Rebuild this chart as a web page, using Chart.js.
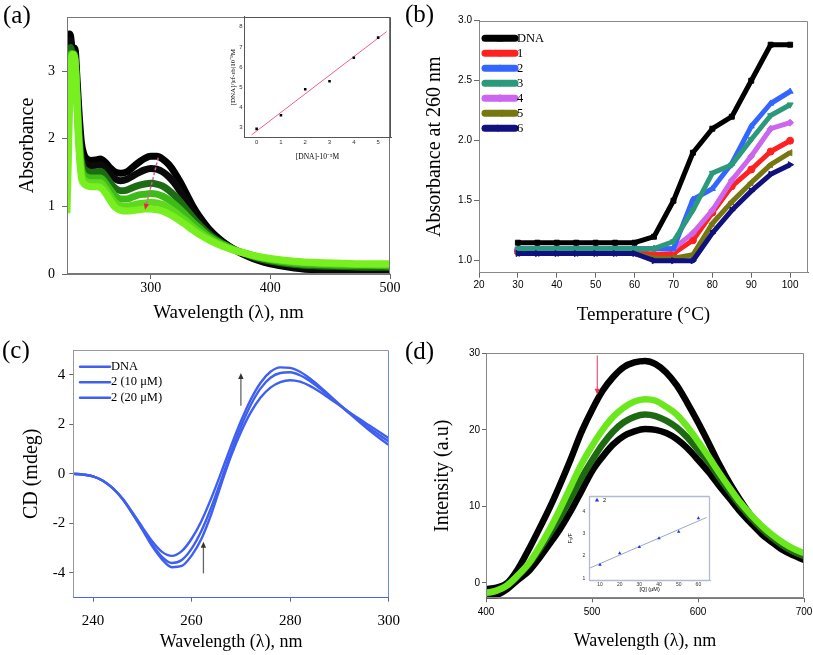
<!DOCTYPE html>
<html><head><meta charset="utf-8"><title>DNA binding figure</title>
<script src="https://cdn.jsdelivr.net/npm/chart.js@4.4.1/dist/chart.umd.min.js"></script>
<style>
html,body{margin:0;padding:0;background:#fff;}
#fig{position:relative;width:813px;height:655px;overflow:hidden;background:#fff;}
#fig canvas{position:absolute;}
.pl{position:absolute;font-family:"Liberation Serif","Times New Roman",serif;font-size:25px;line-height:25px;color:#000;}
</style></head><body>
<div id="fig">
 <canvas id="cA" width="406" height="325" style="left:0;top:0"></canvas>
 <canvas id="cAi" width="182" height="160" style="left:222px;top:5px"></canvas>
 <canvas id="cB" width="407" height="330" style="left:406px;top:0"></canvas>
 <canvas id="cC" width="410" height="330" style="left:0;top:325px"></canvas>
 <canvas id="cD" width="412" height="330" style="left:406px;top:325px"></canvas>
 <canvas id="cDi" width="165" height="112" style="left:560px;top:486px"></canvas>
 <div class="pl" style="left:3px;top:2px">(a)</div>
 <div class="pl" style="left:405px;top:1px">(b)</div>
 <div class="pl" style="left:2px;top:337px">(c)</div>
 <div class="pl" style="left:405px;top:338px">(d)</div>
</div>
<script>
const SERIF='"Liberation Serif","Times New Roman",serif';
const SANS='"Liberation Sans",Arial,sans-serif';

// ---------------- (a) UV-vis absorption titration ----------------
const wlA=[230,231,232,233,234,235,236,237,238,240,242,244,246,250,255,258,262,266,270,275,280,285,290,295,300,305,310,315,320,325,330,335,340,350,360,370,380,390,400,420,440,460,480,500];
const absBlack1=[2.85,3.30,3.55,3.52,3.35,3.28,3.34,3.30,3.00,2.40,1.95,1.78,1.71,1.68,1.69,1.70,1.65,1.57,1.51,1.49,1.51,1.58,1.65,1.71,1.74,1.74,1.70,1.62,1.50,1.35,1.18,1.01,0.87,0.64,0.48,0.36,0.27,0.20,0.15,0.09,0.06,0.05,0.04,0.03];
const absBlack2=[2.75,3.20,3.45,3.45,3.30,3.26,3.28,3.15,2.85,2.22,1.80,1.66,1.62,1.60,1.61,1.62,1.56,1.47,1.41,1.38,1.40,1.45,1.50,1.54,1.56,1.55,1.51,1.44,1.34,1.21,1.07,0.93,0.81,0.61,0.47,0.36,0.28,0.21,0.16,0.10,0.07,0.06,0.05,0.04];
const absGreen1=[2.30,2.90,3.25,3.35,3.28,3.24,3.26,3.12,2.80,2.10,1.68,1.56,1.53,1.50,1.51,1.52,1.45,1.35,1.27,1.23,1.24,1.28,1.31,1.33,1.34,1.33,1.30,1.24,1.16,1.06,0.95,0.84,0.74,0.57,0.45,0.36,0.29,0.23,0.19,0.14,0.12,0.11,0.10,0.10];
const absGreen2=[1.80,2.50,3.00,3.25,3.26,3.22,3.24,3.10,2.75,2.00,1.58,1.47,1.44,1.42,1.42,1.42,1.35,1.25,1.16,1.11,1.11,1.14,1.17,1.18,1.19,1.18,1.15,1.10,1.03,0.95,0.86,0.77,0.69,0.54,0.44,0.36,0.30,0.25,0.21,0.16,0.14,0.13,0.13,0.12];
const absGreen3=[1.30,2.00,2.70,3.10,3.24,3.22,3.22,3.08,2.70,1.92,1.50,1.40,1.37,1.35,1.35,1.35,1.27,1.16,1.06,1.01,1.00,1.02,1.04,1.05,1.06,1.05,1.03,0.98,0.92,0.85,0.78,0.70,0.63,0.51,0.42,0.35,0.30,0.25,0.22,0.18,0.16,0.15,0.14,0.14];
const absGreen4=[0.90,1.60,2.40,2.95,3.20,3.25,3.22,3.05,2.65,1.85,1.43,1.34,1.31,1.29,1.29,1.28,1.20,1.09,0.99,0.94,0.93,0.94,0.95,0.96,0.96,0.95,0.93,0.89,0.84,0.78,0.72,0.65,0.59,0.49,0.41,0.35,0.30,0.26,0.23,0.19,0.17,0.16,0.15,0.15];
const ticksAx=[300,400,500];
const ticksAy=[0,1,2,3];
const arrowA=[[306.3,1.72,295.2,0.95]];
// inset (a)
const dnaConc=[0,1,2,3,4,5];
const dnaRatio=[2.92,3.60,4.89,5.29,6.46,7.46];
const fitAx=[-0.21,5.35];
const fitAy=[2.62,7.76];
const ticksAix=[0,1,2,3,4,5];
const ticksAiy=[3,4,5,6,7,8];

// ---------------- (b) thermal melting ----------------
const tempC=[30,35,40,45,50,55,60,65,70,75,80,85,90,95,100];
const meltDNA=[1.15,1.15,1.15,1.15,1.15,1.15,1.15,1.20,1.50,1.90,2.10,2.20,2.50,2.80,2.80];
const melt1=[1.08,1.08,1.08,1.08,1.08,1.08,1.08,1.05,1.06,1.17,1.40,1.62,1.76,1.91,2.00];
const melt2=[1.10,1.10,1.10,1.10,1.10,1.10,1.10,1.10,1.10,1.51,1.60,1.81,2.12,2.31,2.41];
const melt3=[1.10,1.10,1.10,1.10,1.10,1.10,1.10,1.10,1.16,1.42,1.73,1.80,2.01,2.21,2.30];
const melt4=[1.10,1.10,1.10,1.10,1.10,1.10,1.10,1.10,1.10,1.23,1.42,1.67,1.87,2.10,2.15];
const melt5=[1.06,1.06,1.06,1.06,1.06,1.06,1.06,1.02,1.02,1.05,1.31,1.49,1.65,1.80,1.90];
const melt6=[1.06,1.06,1.06,1.06,1.06,1.06,1.06,1.00,1.00,1.00,1.23,1.42,1.58,1.72,1.80];
const meltLabels=['DNA','1','2','3','4','5','6'];
const ticksBx=[20,30,40,50,60,70,80,90,100];
const ticksBy=[1.0,1.5,2.0,2.5,3.0];

// ---------------- (c) circular dichroism ----------------
const wlC=[236,238,240,242,244,246,248,250,252,254,256,258,260,262,264,266,268,270,272,274,276,278,280,282,284,286,288,290,292,294,296,298,300];
const cdDNA=[0.00,-0.03,-0.10,-0.28,-0.58,-1.02,-1.60,-2.25,-2.92,-3.45,-3.77,-3.72,-3.30,-2.62,-1.62,-0.42,0.72,1.68,2.48,3.08,3.48,3.70,3.78,3.72,3.55,3.31,3.04,2.77,2.49,2.22,1.96,1.70,1.44];
const cd10=[0.00,-0.03,-0.10,-0.28,-0.58,-1.02,-1.60,-2.22,-2.85,-3.35,-3.60,-3.48,-3.02,-2.30,-1.35,-0.25,0.88,1.90,2.78,3.45,3.88,4.07,4.10,3.98,3.75,3.45,3.12,2.79,2.47,2.16,1.86,1.58,1.31];
const cd20=[0.00,-0.03,-0.10,-0.28,-0.58,-1.00,-1.56,-2.15,-2.72,-3.15,-3.31,-3.12,-2.62,-1.90,-0.98,0.05,1.12,2.12,3.00,3.68,4.12,4.30,4.28,4.12,3.85,3.52,3.17,2.80,2.44,2.10,1.77,1.46,1.17];
const cdLabels=['DNA','2 (10 \u03bcM)','2 (20 \u03bcM)'];
const ticksCx=[240,260,280,300];
const ticksCy=[-4,-2,0,2,4];
const arrowC=[[262.4,-4.02,262.4,-2.74],[270.0,2.75,270.0,4.07]];

// ---------------- (d) fluorescence quenching ----------------
const wlD=[400,410,420,430,440,450,460,470,480,490,500,510,520,530,540,550,560,570,580,590,600,610,620,630,640,650,660,670,680,690,700];
const flTop=[-0.8,-0.6,0.0,1.8,4.3,7.0,9.8,12.9,16.2,19.7,22.6,25.1,26.9,28.2,28.8,29.0,28.6,27.5,25.8,23.5,21.0,18.3,15.5,13.0,10.8,8.8,7.1,5.7,4.6,3.8,3.2];
const flLight=[-1.3,-1.0,-0.3,1.0,2.5,4.6,7.0,9.7,12.6,15.5,17.9,20.0,21.7,22.9,23.7,24.0,23.8,23.0,22.0,20.4,18.5,16.5,14.4,12.4,10.5,8.9,7.5,6.3,5.3,4.5,3.9];
const flDark=[-1.4,-1.0,-0.3,0.9,2.4,4.3,6.4,8.6,11.1,13.7,16.0,18.1,19.8,21.0,21.7,22.0,21.8,21.2,20.3,19.0,17.4,15.8,13.8,11.9,10.1,8.5,7.1,5.9,4.9,4.1,3.5];
const flBottom=[-2.0,-1.6,-0.8,0.4,1.5,3.2,5.1,7.1,9.4,12.0,14.6,16.5,18.1,19.2,19.8,20.1,20.0,19.6,18.8,17.6,16.1,14.5,12.7,11.0,9.3,7.8,6.4,5.3,4.3,3.6,3.0];
const ticksDx=[400,500,600,700];
const ticksDy=[0,10,20,30];
const arrowD=[[505,29.7,505,24.6]];
// inset (d) Stern-Volmer
const qConc=[10,20,30,40,50,60];
const f0f=[1.60,2.12,2.40,2.80,3.09,3.69];
const fitDx=[4.6,64.2];
const fitDy=[1.45,3.73];
const ticksDix=[10,20,30,40,50,60];
const ticksDiy=[1,2,3,4];

// ---------------- helpers ----------------
Chart.defaults.animation=false;
Chart.defaults.responsive=false;
Chart.defaults.devicePixelRatio=1;
Chart.defaults.plugins.legend.display=false;
Chart.defaults.plugins.tooltip.enabled=false;
Chart.defaults.font.family=SERIF;
Chart.defaults.color='#000';

const xy=(xs,ys)=>xs.map((x,i)=>({x:x,y:ys[i]}));

function mkAxis(o){
  return {
    type:'linear', position:o.pos, min:o.min, max:o.max,
    afterBuildTicks:(s)=>{ s.ticks=o.ticks.map(v=>({value:v})); },
    afterFit:(s)=>{ if(o.pos==='bottom') s.height=o.size; else s.width=o.size; },
    grid:{display:true, drawOnChartArea:false, drawTicks:true, tickLength:o.tl, tickColor:o.tc||'#666', tickWidth:1},
    border:{display:true, color:o.bc||'#777', width:1},
    ticks:{autoSkip:false, maxRotation:0, minRotation:0, padding:o.tp, color:o.lc||'#000',
           font:{family:o.ff, size:o.fs}, callback:o.fmt||((v)=>String(v))},
    title:{display:!!o.title, text:o.title||'', color:'#000', font:{family:o.tf||SERIF, size:o.ts}, padding:{top:o.tpad,bottom:o.tpad}}
  };
}

function framePlug(id,color,extra){
  return {id:id, afterDatasetsDraw(chart){
    const c=chart.ctx,a=chart.chartArea;
    const L=Math.round(a.left)+0.5,R=Math.round(a.right)-0.5,T=Math.round(a.top)+0.5,B=Math.round(a.bottom)-0.5;
    c.save(); c.lineWidth=(extra&&extra.w)||1;
    const seg=(x1,y1,x2,y2,col)=>{c.strokeStyle=col;c.beginPath();c.moveTo(x1,y1);c.lineTo(x2,y2);c.stroke();};
    seg(L,T,R,T,(extra&&extra.top)||color);
    seg(R,T,R,B,(extra&&extra.right)||color);
    seg(L,T,L,B,(extra&&extra.left)||color);
    seg(L,B,R,B,(extra&&extra.bottom)||color);
    c.restore();
  }};
}

function arrowPlug(id,items,color,lw,head,dash,headColor){
  return {id:id, afterDatasetsDraw(chart){
    const c=chart.ctx,sx=chart.scales.x,sy=chart.scales.y;
    c.save();
    items.forEach(it=>{
      const x1=sx.getPixelForValue(it[0]),y1=sy.getPixelForValue(it[1]);
      const x2=sx.getPixelForValue(it[2]),y2=sy.getPixelForValue(it[3]);
      const ang=Math.atan2(y2-y1,x2-x1);
      c.strokeStyle=color; c.lineWidth=lw; c.setLineDash(dash||[]);
      c.beginPath(); c.moveTo(x1,y1); c.lineTo(x2-Math.cos(ang)*head*0.6,y2-Math.sin(ang)*head*0.6); c.stroke();
      c.setLineDash([]);
      c.fillStyle=headColor||color;
      c.beginPath(); c.moveTo(x2,y2);
      c.lineTo(x2-head*Math.cos(ang)+head*0.45*Math.sin(ang), y2-head*Math.sin(ang)-head*0.45*Math.cos(ang));
      c.lineTo(x2-head*Math.cos(ang)-head*0.45*Math.sin(ang), y2-head*Math.sin(ang)+head*0.45*Math.cos(ang));
      c.closePath(); c.fill();
    });
    c.restore();
  }};
}

function marker(c,style,x,y,r,color){
  c.save(); c.fillStyle=color; c.translate(x,y); c.beginPath();
  if(style==='rect'){c.rect(-r,-r,2*r,2*r);}
  else if(style==='circle'){c.arc(0,0,r,0,Math.PI*2);}
  else if(style==='diamond'){c.moveTo(0,-r*1.35);c.lineTo(r*1.35,0);c.lineTo(0,r*1.35);c.lineTo(-r*1.35,0);c.closePath();}
  else{const rot={tri:0,triDown:180,triLeft:270,triRight:90}[style]||0;
    c.rotate(rot*Math.PI/180);c.moveTo(0,-r*1.25);c.lineTo(r*1.15,r*0.85);c.lineTo(-r*1.15,r*0.85);c.closePath();}
  c.fill(); c.restore();
}

function legendPlug(id,cfg){
  return {id:id, afterDraw(chart){
    const c=chart.ctx; c.save();
    cfg.items.forEach((it,i)=>{
      const y=cfg.y+i*cfg.dy;
      if(cfg.len>0){c.strokeStyle=it.color;c.lineWidth=cfg.lw;c.lineCap='round';
        c.beginPath();c.moveTo(cfg.x,y);c.lineTo(cfg.x+cfg.len,y);c.stroke();}
      if(it.marker) marker(c,it.marker,cfg.x+cfg.mx,y,cfg.mr,it.markerColor||it.color);
      c.fillStyle='#000'; c.font=cfg.font; c.textBaseline='middle'; c.textAlign='left';
      c.fillText(it.label,cfg.x+cfg.len+cfg.gap,y);
    });
    c.restore();
  }};
}

// ---------------- chart (a) ----------------
const colA={b1:'#000000',b2:'#0a0a0a',g1:'#1d6b12',g2:'#3dbb16',g3:'#5fd91f',g4:'#78f020'};
new Chart(document.getElementById('cA'),{
  type:'line',
  data:{datasets:[
    {data:xy(wlA,absGreen4),borderColor:colA.g4,borderWidth:7},
    {data:xy(wlA,absGreen3),borderColor:colA.g3,borderWidth:7},
    {data:xy(wlA,absGreen2),borderColor:colA.g2,borderWidth:7},
    {data:xy(wlA,absGreen1),borderColor:colA.g1,borderWidth:7},
    {data:xy(wlA,absBlack2),borderColor:colA.b2,borderWidth:7},
    {data:xy(wlA,absBlack1),borderColor:colA.b1,borderWidth:7}
  ]},
  options:{
    layout:{padding:{left:0,top:17,right:16,bottom:0}},
    elements:{point:{radius:0},line:{cubicInterpolationMode:'monotone',borderJoinStyle:'round',borderCapStyle:'butt'}},
    scales:{
      x:mkAxis({pos:'bottom',min:230,max:500,ticks:ticksAx,size:51,tl:5,tp:1,ff:SERIF,fs:14,title:'Wavelength (\u03bb), nm',ts:19,tpad:0.5}),
      y:mkAxis({pos:'left',min:0,max:3.8,ticks:ticksAy,size:67,tl:5,tp:7,ff:SERIF,fs:14,title:'Absorbance',ts:20,tpad:16})
    }
  },
  plugins:[framePlug('frA','#777'),arrowPlug('arA',arrowA,'#e2559e',1.4,6,[3,2],'#ee2244')]
});

// inset (a)
new Chart(document.getElementById('cAi'),{
  type:'line',
  data:{datasets:[
    {data:xy(dnaConc,dnaRatio),showLine:false,pointStyle:'rect',pointRadius:1.8,pointBackgroundColor:'#000',pointBorderColor:'#000',pointBorderWidth:0},
    {data:xy(fitAx,fitAy),borderColor:'#f0608a',borderWidth:1,pointRadius:0}
  ]},
  options:{
    layout:{padding:{left:0,top:11.7,right:13,bottom:0}},
    scales:{
      x:mkAxis({pos:'bottom',min:-0.52,max:5.53,ticks:ticksAix,size:27.3,tl:0,tp:1.5,ff:SANS,fs:6,lc:'#333',bc:'#555',title:'[DNA]-10\u207b\u2075M',ts:7.5,tpad:3.8}),
      y:mkAxis({pos:'left',min:2.48,max:8.5,ticks:ticksAiy,size:22,tl:0,tp:1.5,ff:SANS,fs:6,lc:'#333',bc:'#555',title:'[DNA]/|\u03b5f-\u03b5b|10\u207b\u2079M',ts:7,tpad:7.3})
    }
  },
  plugins:[framePlug('frAi','#555')]
});

// ---------------- chart (b) ----------------
const colB=['#000000','#ff2020','#3366ff','#2a9a7a','#cc66ee','#777711','#10107e'];
const mkB=['rect','circle','tri','triDown','diamond','triLeft','triRight'];
const cjsStyle={rect:['rect',0],circle:['circle',0],tri:['triangle',0],triDown:['triangle',180],diamond:['rectRot',0],triLeft:['triangle',270],triRight:['triangle',90]};
const meltSeries=[meltDNA,melt1,melt2,melt3,melt4,melt5,melt6];
const drawOrder=[2,6,3,1,4,5,0];
new Chart(document.getElementById('cB'),{
  type:'line',
  data:{datasets:meltSeries.map((s,i)=>({
    label:meltLabels[i],data:xy(tempC,s),borderColor:colB[i],backgroundColor:colB[i],borderWidth:5,
    pointStyle:cjsStyle[mkB[i]][0],rotation:cjsStyle[mkB[i]][1],pointRadius:3.5,
    pointBackgroundColor:colB[i],pointBorderColor:colB[i],pointBorderWidth:1,order:drawOrder[i]
  }))},
  options:{
    layout:{padding:{left:0,top:20.7,right:3,bottom:0}},
    elements:{line:{tension:0,borderJoinStyle:'round'}},
    scales:{
      x:mkAxis({pos:'bottom',min:20,max:104.6,ticks:ticksBx,size:57.3,tl:5,tp:2,ff:SANS,fs:10,title:'Temperature (\u00b0C)',ts:19,tpad:3.6}),
      y:mkAxis({pos:'left',min:0.9,max:3.0,ticks:ticksBy,size:73,tl:5,tp:2,ff:SANS,fs:10,fmt:(v)=>v.toFixed(1),title:'Absorbance at 260 nm',ts:20,tpad:17})
    }
  },
  plugins:[framePlug('frB','#888'),legendPlug('lgB',{x:79,y:38.3,dy:15,len:30,lw:7,mx:15,mr:3.2,gap:2,font:'12.5px '+SERIF,
    items:meltLabels.map((l,i)=>({label:l,color:colB[i],marker:mkB[i]}))})]
});

// ---------------- chart (c) ----------------
const blueC='#3f5ff0';
new Chart(document.getElementById('cC'),{
  type:'line',
  data:{datasets:[
    {label:cdLabels[0],data:xy(wlC,cdDNA),borderColor:blueC,borderWidth:2.4},
    {label:cdLabels[1],data:xy(wlC,cd10),borderColor:blueC,borderWidth:2.4},
    {label:cdLabels[2],data:xy(wlC,cd20),borderColor:blueC,borderWidth:2.4}
  ]},
  options:{
    layout:{padding:{left:0,top:25,right:15.7,bottom:0}},
    elements:{point:{radius:0},line:{cubicInterpolationMode:'monotone'}},
    scales:{
      x:mkAxis({pos:'bottom',min:236,max:300,ticks:ticksCx,size:57.3,tl:4,tp:10,ff:SERIF,fs:15,bc:'#5577ff',title:'Wavelength (\u03bb), nm',ts:18,tpad:2.2}),
      y:mkAxis({pos:'left',min:-5,max:5,ticks:ticksCy,size:73.3,tl:4,tp:4,ff:SERIF,fs:15,title:'CD (mdeg)',ts:20,tpad:20})
    }
  },
  plugins:[framePlug('frC','#999',{bottom:'#4466ff',right:'#6688ff'}),
    arrowPlug('arC',arrowC,'#666',1.3,6,[], '#333'),
    legendPlug('lgC',{x:80,y:41.7,dy:15.5,len:30,lw:2.4,mx:0,mr:0,gap:1,font:'12.5px '+SERIF,
      items:cdLabels.map(l=>({label:l,color:blueC}))})]
});

// ---------------- chart (d) ----------------
new Chart(document.getElementById('cD'),{
  type:'line',
  data:{datasets:[
    {data:xy(wlD,flLight),borderColor:'#6be81d',borderWidth:6.5},
    {data:xy(wlD,flDark),borderColor:'#1d6a12',borderWidth:6.5},
    {data:xy(wlD,flTop),borderColor:'#000',borderWidth:6.5},
    {data:xy(wlD,flBottom),borderColor:'#000',borderWidth:6.5}
  ]},
  options:{
    layout:{padding:{left:0,top:28.3,right:14,bottom:0}},
    elements:{point:{radius:0},line:{cubicInterpolationMode:'monotone'}},
    scales:{
      x:mkAxis({pos:'bottom',min:400,max:700,ticks:ticksDx,size:56.7,tl:4,tp:3.5,ff:SANS,fs:10,title:'Wavelength (\u03bb), nm',ts:18,tpad:3.2}),
      y:mkAxis({pos:'left',min:-2,max:30,ticks:ticksDy,size:80,tl:4,tp:2,ff:SANS,fs:10,title:'Intensity (a.u)',ts:20,tpad:25})
    }
  },
  plugins:[framePlug('frD','#888'),arrowPlug('arD',arrowD,'#ee5577',1.2,6,[], '#ee3355')]
});

// inset (d)
new Chart(document.getElementById('cDi'),{
  type:'line',
  data:{datasets:[
    {data:xy(qConc,f0f),showLine:false,pointStyle:'triangle',pointRadius:2,pointBackgroundColor:'#2233ee',pointBorderColor:'#2233ee',pointBorderWidth:0},
    {data:xy(fitDx,fitDy),borderColor:'#9aaabb',borderWidth:1,pointRadius:0}
  ]},
  options:{
    layout:{padding:{left:0,top:10,right:15,bottom:0}},
    scales:{
      x:mkAxis({pos:'bottom',min:4.56,max:65.9,ticks:ticksDix,size:17.3,tl:0,tp:1,ff:SANS,fs:5,lc:'#333',bc:'#b0bccb',title:'[Q] (\u03bcM)',tf:SANS,ts:5.5,tpad:5},),
      y:mkAxis({pos:'left',min:0.89,max:4.69,ticks:ticksDiy,size:29.3,tl:0,tp:4,ff:SANS,fs:5,lc:'#333',bc:'#b0bccb',title:'F\u2080/F',tf:SANS,ts:5.5,tpad:7})
    }
  },
  plugins:[framePlug('frDi','#b0bccb',{w:1.3}),legendPlug('lgDi',{x:37,y:14,dy:10,len:0,lw:0,mx:0,mr:1.8,gap:6,font:'5.5px '+SANS,
    items:[{label:'2',color:'#2233ee',marker:'tri'}]})]
});
</script>
</body></html>
